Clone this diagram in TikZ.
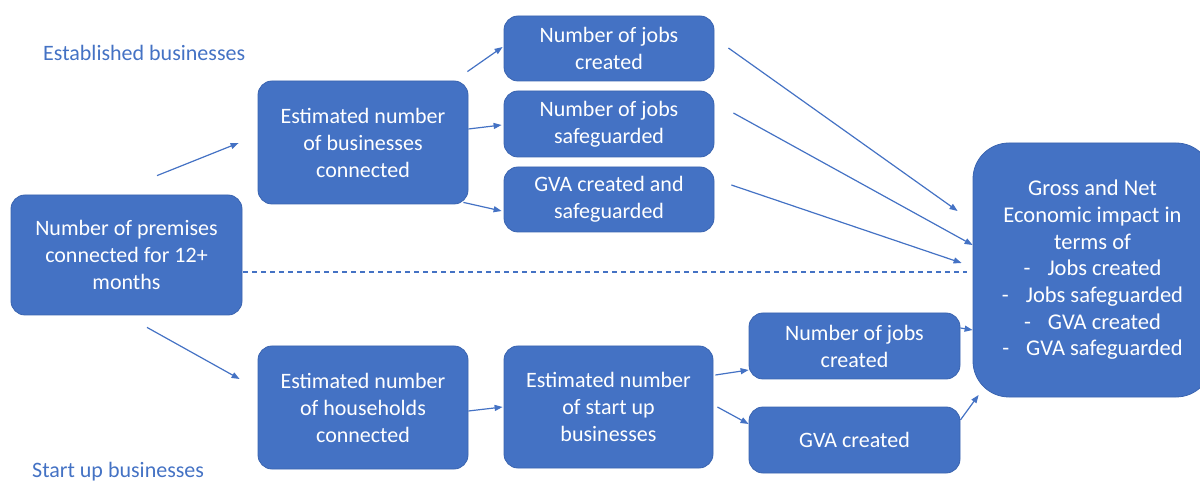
\documentclass[tikz,border=0pt]{standalone}
\usepackage{fontspec}
\setmainfont{Carlito}
\usepackage{tikz}
\usetikzlibrary{arrows.meta, positioning}
\definecolor{boxblue}{HTML}{4472C4}
\definecolor{edgeblue}{HTML}{3A64B0}
\tikzstyle{stage}=[rectangle, rounded corners=14pt, draw=edgeblue, line width=0.8pt, fill=boxblue, text=white, align=center, font=\fontsize{22}{27}\selectfont, inner sep=0pt]
\tikzstyle{flow}=[draw=boxblue, line width=1.2pt, -{Triangle[length=8pt,width=6pt]}]
\tikzstyle{group}=[text=boxblue, font=\fontsize{22}{26}\selectfont, inner sep=0pt, anchor=west]

\begin{document}
\begin{tikzpicture}[x=1pt, y=-1pt]
    \useasboundingbox (0,0) rectangle (1200,486);

    % Starting point.
    \node[stage, minimum width=231pt, minimum height=120pt] (prem) at (126.5,255) {Number of premises\\connected for 12+\\months};

    % Established businesses.
    \node[group] (estlbl) at (43,53) {Established businesses};
    \node[stage, minimum width=210pt, minimum height=123pt] (bus) at (363,142.5) {Estimated number\\of businesses\\connected};
    \node[stage, minimum width=210pt, minimum height=65pt] (jobsc) at (609,48.5) {Number of jobs\\created};
    \node[stage, minimum width=210pt, minimum height=66pt] (jobss) at (609,124) {Number of jobs\\safeguarded};
    \node[stage, minimum width=210pt, minimum height=65pt] (gvacs) at (609,199.5) {GVA created and\\safeguarded};

    % Start up businesses.
    \node[group] (suplbl) at (32,472) {Start up businesses};
    \node[stage, minimum width=210pt, minimum height=123pt] (hh) at (363,407.5) {Estimated number\\of households\\connected};
    \node[stage, minimum width=209pt, minimum height=122pt] (sup) at (608.5,407) {Estimated number\\of start up\\businesses};
    \node[stage, minimum width=211pt, minimum height=66pt] (supjobs) at (854.5,346) {Number of jobs\\created};
    \node[stage, minimum width=211pt, minimum height=66pt] (supgva) at (854.5,440) {GVA created};

    % Overall impact.
    \node[stage, rounded corners=36pt, minimum width=239pt, minimum height=254pt, font=\fontsize{22.5}{26.7}\selectfont] (impact) at (1092.5,270)
      {Gross and Net\\Economic impact in\\terms of\\-\hspace{17pt}Jobs created\\-\hspace{17pt}Jobs safeguarded\\-\hspace{17pt}GVA created\\-\hspace{17pt}GVA safeguarded};

    % Arrows, upper half.
    \draw[flow] ([shift={(30.5,-19)}]prem.north) -- ([shift={(-19,0.5)}]bus.west);
    \draw[flow] ([shift={(-1,-9)}]bus.north east) -- ([shift={(-1,-1.5)}]jobsc.west);
    \draw[flow] ([shift={(0,-13.5)}]bus.east) -- ([shift={(-2,1)}]jobss.west);
    \draw[flow] ([shift={(-5,-2)}]bus.south east) -- ([shift={(-2,11.5)}]gvacs.west);
    \draw[flow] ([shift={(14,-0.5)}]jobsc.east) -- ([shift={(-15,-59)}]impact.west);
    \draw[flow] ([shift={(19,-11)}]jobss.east) -- ([shift={(0,-25)}]impact.west);
    \draw[flow] ([shift={(17,-14.5)}]gvacs.east) -- ([shift={(-11,-7)}]impact.west);

    % Split between the two groups.
    \draw[boxblue, line width=1.2pt, dash pattern=on 5pt off 4pt] ([shift={(1,17)}]prem.east) -- ([shift={(-6,2)}]impact.west);

    % Arrows, lower half.
    \draw[flow] ([shift={(20.5,12)}]prem.south) -- ([shift={(-18,-28.5)}]hh.west);
    \draw[flow] ([shift={(0,3.5)}]hh.east) -- ([shift={(-1,0)}]sup.west);
    \draw[flow] ([shift={(2,-32)}]sup.east) -- ([shift={(0,24)}]supjobs.west);
    \draw[flow] ([shift={(4,0)}]sup.east) -- ([shift={(0,-16)}]supgva.west);
    \draw[flow] ([shift={(0,-18)}]supjobs.east) -- ([shift={(0,60)}]impact.west);
    \draw[flow] ([shift={(0,-20)}]supgva.east) -- ([shift={(6,125)}]impact.west);
\end{tikzpicture}
\end{document}
